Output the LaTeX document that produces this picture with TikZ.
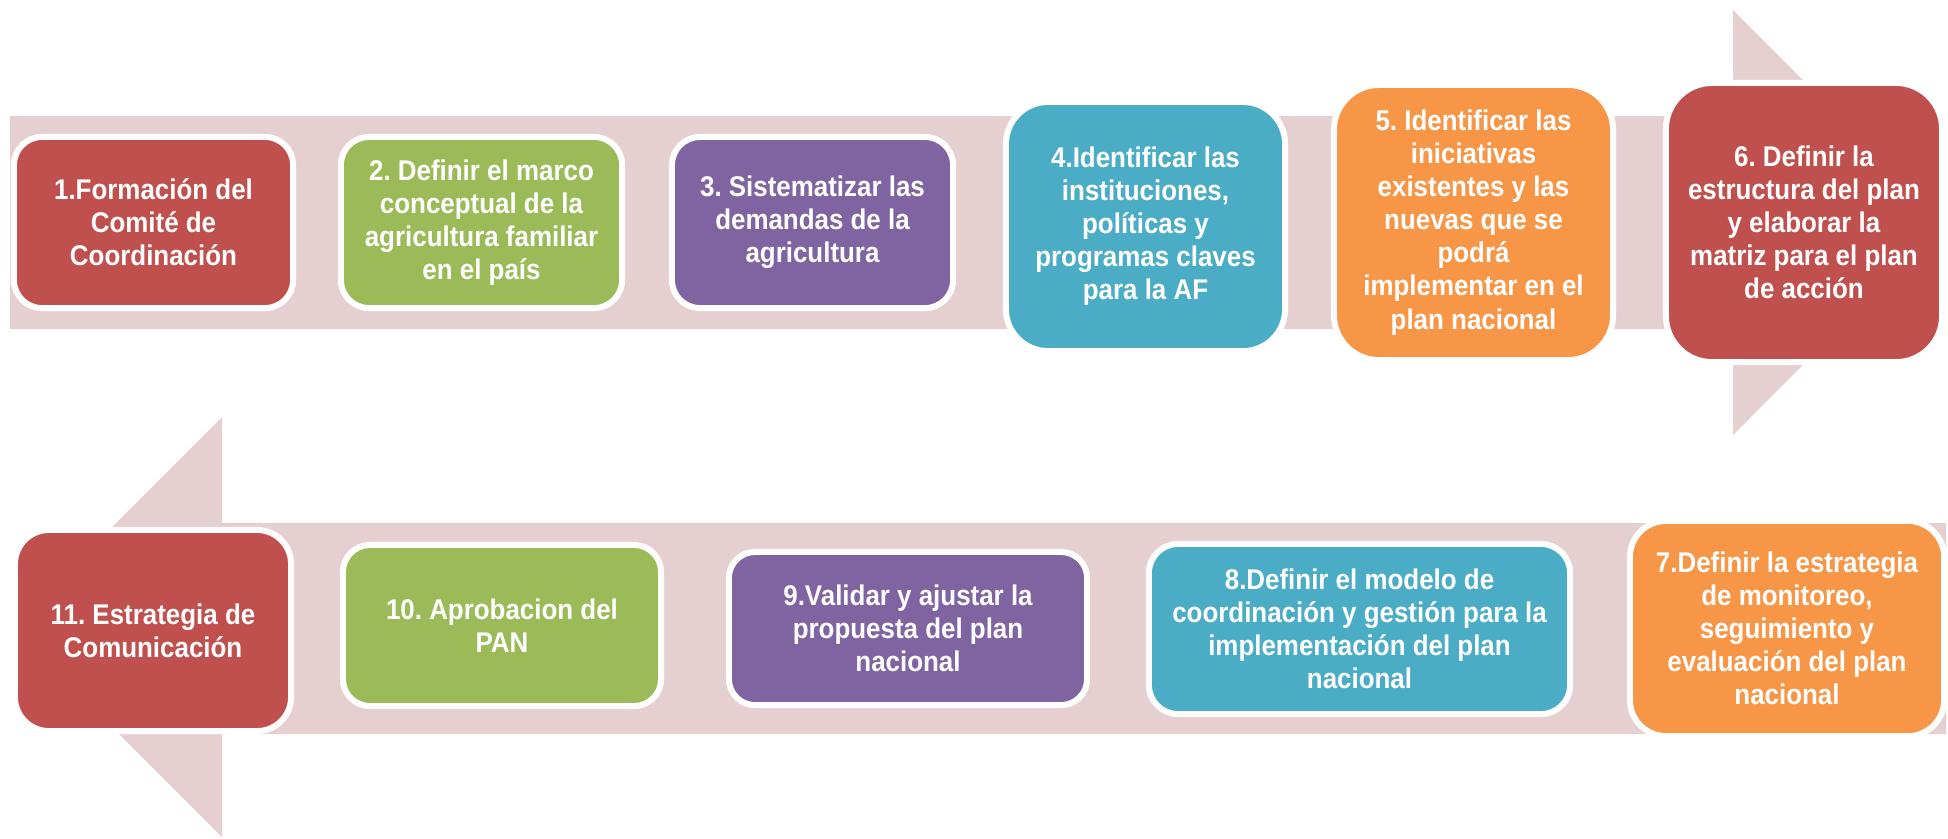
\documentclass[tikz,border=0pt]{standalone}
\usepackage{fontspec}
\setmainfont{Liberation Sans}[FakeStretch=0.91]
\usepackage{tikz}

\definecolor{band}{RGB}{230,207,208}
\definecolor{redbox}{RGB}{192,80,77}
\definecolor{greenbox}{RGB}{155,187,89}
\definecolor{purplebox}{RGB}{128,100,162}
\definecolor{bluebox}{RGB}{75,172,198}
\definecolor{orangebox}{RGB}{247,150,70}

\begin{document}
\begin{tikzpicture}[x=0.01cm, y=-0.01cm,
    stepbox/.style={draw=white, line width=0.06cm, inner sep=0pt, align=center, text=white,
        font=\fontsize{8.1pt}{9.4pt}\selectfont\bfseries\frenchspacing}]
    \useasboundingbox (0,0) rectangle (1948,838);
    % the two arrows behind the steps
    \fill[band] (10,116) -- (1733,116) -- (1733,10) -- (1945,222.5) -- (1733,435) -- (1733,329) -- (10,329) -- cycle;
    \fill[band] (1946,523) -- (222,523) -- (222,417) -- (12,627) -- (222,837) -- (222,734) -- (1946,734) -- cycle;
    % first row, left to right
    \node[stepbox, fill=redbox, minimum width=2.79cm, minimum height=1.71cm, rounded corners=0.28cm] at (153.5,222.5) (S1) {1.Formación del\\Comité de\\Coordinación};
    \node[stepbox, fill=greenbox, minimum width=2.81cm, minimum height=1.71cm, rounded corners=0.28cm] at (481.5,222.5) (S2) {2. Definir el marco\\conceptual de la\\agricultura familiar\\en el país};
    \node[stepbox, fill=purplebox, minimum width=2.81cm, minimum height=1.71cm, rounded corners=0.28cm] at (812.5,222.5) (S3) {3. Sistematizar las\\demandas de la\\agricultura};
    \node[stepbox, fill=bluebox, minimum width=2.79cm, minimum height=2.49cm, rounded corners=0.42cm] at (1145.5,226.5) (S4) {4.Identificar las\\instituciones,\\políticas y\\programas claves\\para la AF};
    \node[stepbox, fill=orangebox, minimum width=2.79cm, minimum height=2.75cm, rounded corners=0.45cm] at (1473.5,222.5) (S5) {5. Identificar las\\iniciativas\\existentes y las\\nuevas que se\\podrá\\implementar en el\\plan nacional};
    \node[stepbox, fill=redbox, minimum width=2.76cm, minimum height=2.79cm, rounded corners=0.46cm] at (1804,222.5) (S6) {6. Definir la\\estructura del plan\\y elaborar la\\matriz para el plan\\de acción};
    % second row, right to left
    \node[stepbox, fill=orangebox, minimum width=3.14cm, minimum height=2.15cm, rounded corners=0.36cm] at (1787,628.5) (S7) {7.Definir la estrategia\\de monitoreo,\\seguimiento y\\evaluación del plan\\nacional};
    \node[stepbox, fill=bluebox, minimum width=4.21cm, minimum height=1.70cm, rounded corners=0.29cm] at (1359.5,629) (S8) {8.Definir el modelo de\\coordinación y gestión para la\\implementación del plan\\nacional};
    \node[stepbox, fill=purplebox, minimum width=3.58cm, minimum height=1.53cm, rounded corners=0.26cm] at (908,628.5) (S9) {9.Validar y ajustar la\\propuesta del plan\\nacional};
    \node[stepbox, fill=greenbox, minimum width=3.18cm, minimum height=1.61cm, rounded corners=0.27cm] at (502,625.5) (S10) {10. Aprobacion del\\PAN};
    \node[stepbox, fill=redbox, minimum width=2.76cm, minimum height=2.01cm, rounded corners=0.34cm] at (153,630.5) (S11) {11. Estrategia de\\Comunicación};
\end{tikzpicture}
\end{document}
